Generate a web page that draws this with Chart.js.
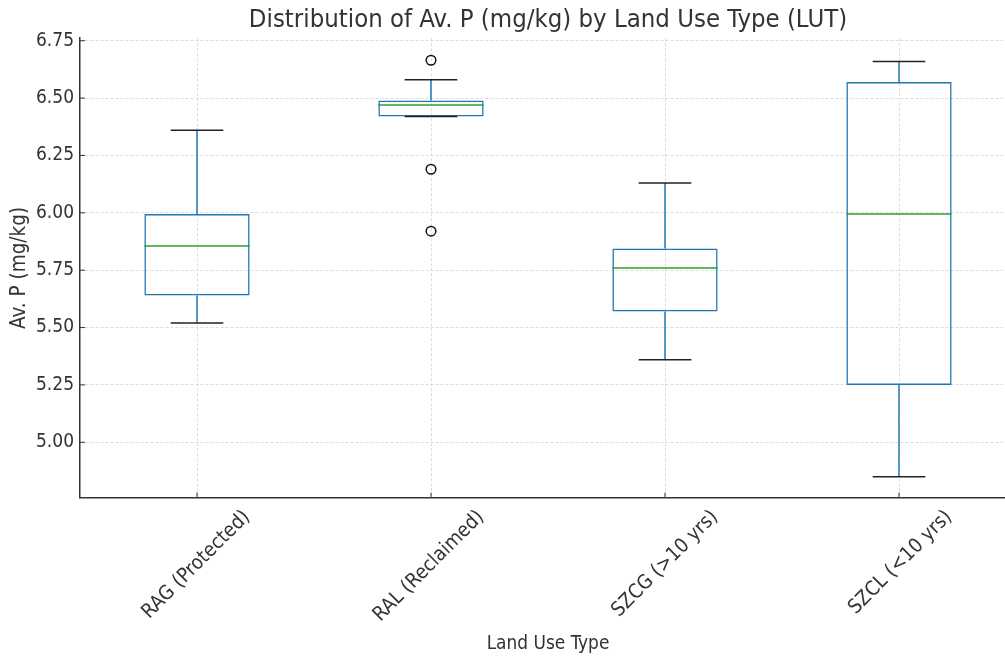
<!DOCTYPE html>
<html>
<head>
<meta charset="utf-8">
<script src="https://cdn.jsdelivr.net/npm/chart.js@4.4.0/dist/chart.umd.min.js"></script>
<style>
html, body { margin: 0; padding: 0; overflow: hidden; background: #fff; }
#wrap { width: 1040px; height: 659px; }
</style>
</head>
<body>
<div id="wrap"><canvas id="boxChart"></canvas></div>
<script>
// values
const landUse = ["RAG (Protected)", "RAL (Reclaimed)", "SZCG (>10 yrs)", "SZCL (<10 yrs)"];
const whiskerLow = [5.52, 6.42, 5.36, 4.85];
const q1 = [5.64, 6.42, 5.57, 5.25];
const median = [5.855, 6.47, 5.76, 5.995];
const q3 = [5.995, 6.49, 5.845, 6.57];
const whiskerHigh = [6.36, 6.58, 6.13, 6.66];
const outliers = [[], [6.665, 6.19, 5.92], [], []];

const yMin = 4.759, yMax = 6.761, yStep = 0.25;

Chart.defaults.font.family = "'DejaVu Sans Condensed', 'DejaVu Sans', sans-serif";
Chart.defaults.color = "#333";

var flierPoints = [];
outliers.forEach(function(list, i) {
    list.forEach(function(v) { flierPoints.push({x: landUse[i], y: v}); });
});

function seg(ctx, x1, y1, x2, y2) {
    ctx.beginPath();
    ctx.moveTo(x1, y1);
    ctx.lineTo(x2, y2);
    ctx.stroke();
}

// whiskers, caps, medians and the small inward ticks
const boxParts = {
    id: 'boxParts',
    afterDatasetsDraw(chart) {
        const ctx = chart.ctx, xs = chart.scales.x, ys = chart.scales.y;
        const meta = chart.getDatasetMeta(0);
        ctx.save();
        ctx.lineWidth = 1.5;
        for (let i = 0; i < landUse.length; i++) {
            const cx = xs.getPixelForValue(i);
            const half = meta.data[i].width / 2;
            ctx.strokeStyle = '#1f77b4';
            seg(ctx, cx, ys.getPixelForValue(q1[i]), cx, ys.getPixelForValue(whiskerLow[i]));
            seg(ctx, cx, ys.getPixelForValue(q3[i]), cx, ys.getPixelForValue(whiskerHigh[i]));
            ctx.strokeStyle = '#222';
            seg(ctx, cx - half / 2, ys.getPixelForValue(whiskerLow[i]), cx + half / 2, ys.getPixelForValue(whiskerLow[i]));
            seg(ctx, cx - half / 2, ys.getPixelForValue(whiskerHigh[i]), cx + half / 2, ys.getPixelForValue(whiskerHigh[i]));
            ctx.strokeStyle = '#2ca02c';
            seg(ctx, cx - half, ys.getPixelForValue(median[i]), cx + half, ys.getPixelForValue(median[i]));
        }
        const area = chart.chartArea;
        ctx.strokeStyle = '#333';
        ctx.lineWidth = 1;
        ys.ticks.forEach(function(t) {
            const py = ys.getPixelForValue(t.value);
            seg(ctx, area.left, py, area.left + 5, py);
        });
        xs.ticks.forEach(function(t, i) {
            const px = xs.getPixelForValue(i);
            seg(ctx, px, area.bottom, px, area.bottom - 5);
        });
        ctx.restore();
    }
};

var ctx = document.getElementById('boxChart').getContext('2d');
var boxChart = new Chart(ctx, {
    type: 'bar',
    data: {
        labels: landUse,
        datasets: [{
            label: 'box',
            data: landUse.map(function(_, i) { return [q1[i], q3[i]]; }),
            backgroundColor: 'rgba(0,0,0,0)',
            borderColor: '#1f77b4',
            borderWidth: 1.5,
            borderSkipped: false,
            categoryPercentage: 1,
            barPercentage: 0.45
        }, {
            type: 'line',
            label: 'outliers',
            data: flierPoints,
            showLine: false,
            pointRadius: 4.8,
            pointBorderWidth: 1.5,
            pointBorderColor: '#111',
            pointBackgroundColor: 'rgba(0,0,0,0)'
        }]
    },
    options: {
        responsive: true,
        maintainAspectRatio: false,
        animation: false,
        layout: { padding: { top: 0, right: 24, bottom: 0, left: 0 } },
        plugins: {
            legend: { display: false },
            tooltip: { enabled: false },
            title: {
                display: true,
                fullSize: false,
                text: 'Distribution of Av. P (mg/kg) by Land Use Type (LUT)',
                color: '#333',
                font: { size: 25.5, weight: 'normal', lineHeight: 1.2 },
                padding: { top: 5, bottom: 2.6 }
            }
        },
        scales: {
            x: {
                offset: true,
                grid: { offset: false, color: '#d4d4d4', lineWidth: 0.8, drawTicks: false },
                border: { color: '#333', width: 1.5, dash: [3, 2] },
                ticks: { maxRotation: 45, minRotation: 45, labelOffset: 50, padding: 8, font: { size: 20 } },
                title: { display: true, text: 'Land Use Type', font: { size: 18.9 }, padding: { top: 4, bottom: 4 } },
                afterFit: function(scale) { scale.height = 161.4; }
            },
            y: {
                min: yMin,
                max: yMax,
                grid: { color: '#d4d4d4', lineWidth: 0.8, drawTicks: false },
                border: { color: '#333', width: 1.5, dash: [3, 2] },
                ticks: {
                    stepSize: yStep,
                    includeBounds: false,
                    padding: 6,
                    font: { size: 19 },
                    callback: function(v) { return v.toFixed(2); }
                },
                title: { display: true, text: 'Av. P (mg/kg)', font: { size: 20.5 }, padding: { top: 7, bottom: 4 } },
                afterFit: function(scale) { scale.width = 80; }
            }
        }
    },
    plugins: [boxParts]
});
</script>
</body>
</html>
